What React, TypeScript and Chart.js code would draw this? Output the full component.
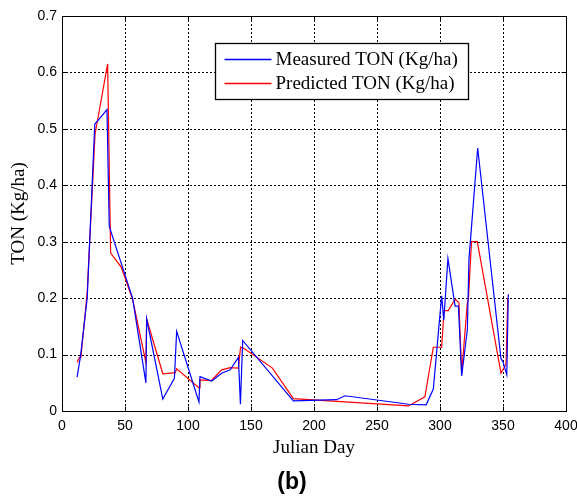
import React, { useEffect, useRef } from "react";
import { Chart, registerables } from "chart.js";

Chart.register(...registerables);

const measuredDays = [12, 14.8, 20, 26, 35.7, 37.5, 56, 66.6, 67.2, 80, 89.2, 91, 108.7, 109.5, 118.8, 126.7, 133.5, 140, 141.6, 143.4, 183.6, 218, 224.6, 275, 289, 294.7, 301.3, 303, 306.3, 311, 312, 314.6, 317.2, 321.7, 323, 324.3, 329.9, 348.4, 350, 353, 354.2];
const measuredTON = [0.06, 0.099, 0.2, 0.508, 0.534, 0.327, 0.2, 0.05, 0.163, 0.021, 0.058, 0.141, 0.016, 0.061, 0.053, 0.067, 0.073, 0.095, 0.012, 0.125, 0.018, 0.02, 0.027, 0.012, 0.011, 0.039, 0.204, 0.161, 0.27, 0.2, 0.186, 0.186, 0.062, 0.144, 0.27, 0.306, 0.466, 0.093, 0.087, 0.064, 0.207];

const predictedDays = [12, 13.8, 15, 20, 26.2, 36.2, 38.6, 47, 56, 66.6, 67.2, 80, 90, 91, 108.8, 109.5, 118.6, 126.7, 133.5, 140, 141.7, 143.6, 167, 183.6, 275, 288, 294.7, 301.3, 303.2, 306.6, 312, 315, 317.2, 321.7, 322.5, 325, 329.6, 348.4, 352.4, 353.8];
const predictedTON = [0.086, 0.095, 0.095, 0.21, 0.49, 0.615, 0.28, 0.255, 0.198, 0.086, 0.163, 0.066, 0.068, 0.075, 0.041, 0.055, 0.054, 0.073, 0.077, 0.076, 0.113, 0.112, 0.076, 0.022, 0.009, 0.025, 0.113, 0.113, 0.178, 0.178, 0.198, 0.192, 0.067, 0.192, 0.197, 0.3, 0.3, 0.067, 0.083, 0.2];

const seriesLabels = ["Measured TON (Kg/ha)", "Predicted TON (Kg/ha)"];
const seriesColors = ["#0000ff", "#ff0000"];
const xTitle = "Julian Day";
const yTitle = "TON (Kg/ha)";
const panelLabel = "(b)";

const SERIF = "'Liberation Serif', 'Times New Roman', serif";
const SANS = "'Liberation Sans', Arial, sans-serif";

const framePlugin = {
  id: "matlabFrame",
  beforeDatasetsDraw(chart: any) {
    const { ctx, chartArea: a, scales } = chart;
    const xs = scales.x;
    const ys = scales.y;
    ctx.save();
    ctx.strokeStyle = "#000";
    ctx.lineWidth = 1;
    ctx.setLineDash([2, 2]);
    xs.ticks.forEach((t: any) => {
      const px = Math.round(xs.getPixelForValue(t.value)) + 0.5;
      if (px <= a.left + 1 || px >= a.right - 1) return;
      ctx.beginPath();
      ctx.moveTo(px, a.top);
      ctx.lineTo(px, a.bottom);
      ctx.stroke();
    });
    ys.ticks.forEach((t: any) => {
      const py = Math.round(ys.getPixelForValue(t.value)) + 0.5;
      if (py <= a.top + 1 || py >= a.bottom - 1) return;
      ctx.beginPath();
      ctx.moveTo(a.left, py);
      ctx.lineTo(a.right, py);
      ctx.stroke();
    });
    ctx.restore();
  },
  afterDraw(chart: any) {
    const { ctx, chartArea: a, scales } = chart;
    const xs = scales.x;
    const ys = scales.y;
    ctx.save();
    ctx.setLineDash([]);
    ctx.strokeStyle = "#000";
    ctx.lineWidth = 1;
    const L = Math.round(a.left) + 0.5;
    const R = Math.round(a.right) + 0.5;
    const T = Math.round(a.top) + 0.5;
    const B = Math.round(a.bottom) + 0.5;
    ctx.strokeRect(L, T, R - L, B - T);
    const tl = 5;
    xs.ticks.forEach((t: any) => {
      const px = Math.round(xs.getPixelForValue(t.value)) + 0.5;
      ctx.beginPath();
      ctx.moveTo(px, B);
      ctx.lineTo(px, B - tl);
      ctx.moveTo(px, T);
      ctx.lineTo(px, T + tl);
      ctx.stroke();
    });
    ys.ticks.forEach((t: any) => {
      const py = Math.round(ys.getPixelForValue(t.value)) + 0.5;
      ctx.beginPath();
      ctx.moveTo(L, py);
      ctx.lineTo(L + tl, py);
      ctx.moveTo(R, py);
      ctx.lineTo(R - tl, py);
      ctx.stroke();
    });

    // legend
    const lx = Math.round(a.left + 153) + 0.5;
    const ly = Math.round(a.top + 27) + 0.5;
    const lw = 253;
    const lh = 56;
    ctx.fillStyle = "#fff";
    ctx.fillRect(lx, ly, lw, lh);
    ctx.strokeStyle = "#000";
    ctx.lineWidth = 1.3;
    ctx.strokeRect(lx, ly, lw, lh);
    ctx.font = `19px ${SERIF}`;
    ctx.textBaseline = "middle";
    ctx.textAlign = "left";
    seriesLabels.forEach((lab, i) => {
      const yy = ly + 16 + i * 24;
      ctx.beginPath();
      ctx.strokeStyle = seriesColors[i];
      ctx.lineWidth = 1.4;
      ctx.moveTo(lx + 9, yy);
      ctx.lineTo(lx + 56, yy);
      ctx.stroke();
      ctx.fillStyle = "#000";
      ctx.fillText(lab, lx + 60, yy + 1);
    });

    // panel label
    ctx.font = `bold 23px ${SANS}`;
    ctx.textAlign = "center";
    ctx.textBaseline = "middle";
    ctx.fillStyle = "#000";
    ctx.fillText(panelLabel, 292, 483);
    ctx.restore();
  },
};

export default function App() {
  const ref = useRef<HTMLCanvasElement | null>(null);
  useEffect(() => {
    if (!ref.current) return;
    const chart = new Chart(ref.current, {
      type: "scatter",
      data: {
        datasets: [
          {
            label: seriesLabels[0],
            data: measuredDays.map((d, i) => ({ x: d, y: measuredTON[i] })),
            showLine: true,
            borderColor: seriesColors[0],
            backgroundColor: seriesColors[0],
            borderWidth: 1.2,
            pointRadius: 0,
            tension: 0,
          },
          {
            label: seriesLabels[1],
            data: predictedDays.map((d, i) => ({ x: d, y: predictedTON[i] })),
            showLine: true,
            borderColor: seriesColors[1],
            backgroundColor: seriesColors[1],
            borderWidth: 1.2,
            pointRadius: 0,
            tension: 0,
          },
        ],
      },
      options: {
        responsive: false,
        animation: false,
        layout: { padding: { left: 0, right: 11, top: 16, bottom: 0 } },
        plugins: {
          legend: { display: false },
          title: { display: false },
          tooltip: { enabled: false },
        },
        scales: {
          x: {
            type: "linear",
            min: 0,
            max: 400,
            ticks: {
              stepSize: 50,
              color: "#000",
              font: { family: SANS, size: 14 },
              padding: 7,
              maxRotation: 0,
            },
            grid: { display: false, drawTicks: false },
            border: { display: false },
            title: {
              display: true,
              text: xTitle,
              color: "#000",
              font: { family: SERIF, size: 19 },
              padding: { top: 0, bottom: 40 },
            },
            afterFit(scale: any) {
              scale.height = 88;
              scale.paddingLeft = 0;
              scale.paddingRight = 0;
            },
          },
          y: {
            type: "linear",
            min: 0,
            max: 0.7,
            ticks: {
              stepSize: 0.1,
              color: "#000",
              font: { family: SANS, size: 14 },
              padding: 5,
              callback: (v: any) => String(Number(Number(v).toFixed(1))),
            },
            grid: { display: false, drawTicks: false },
            border: { display: false },
            title: {
              display: true,
              text: yTitle,
              color: "#000",
              font: { family: SERIF, size: 19 },
              padding: { top: 8, bottom: 0 },
            },
            afterFit(scale: any) {
              scale.width = 62;
              scale.paddingTop = 0;
              scale.paddingBottom = 0;
            },
          },
        },
      },
      plugins: [framePlugin],
    });
    return () => chart.destroy();
  }, []);
  return (
    <div style={{ position: "absolute", left: 0, top: 0, width: 577, height: 499, background: "#fff" }}>
      <canvas ref={ref} width={577} height={499} style={{ width: 577, height: 499, display: "block" }} />
    </div>
  );
}
